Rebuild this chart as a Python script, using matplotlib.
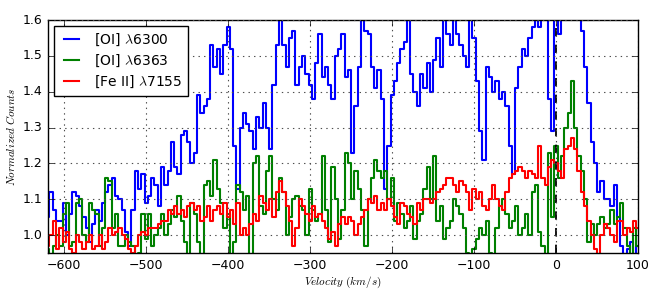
import numpy as np
import matplotlib
matplotlib.use("Agg")
import matplotlib.pyplot as plt

plt.style.use("classic")

# velocity grid (km/s), 4 km/s bins from -620 to 100
velocity = np.arange(-620, 101, 4)

oi_6300 = [
    1.05, 1.12, 1.07, 1.04, 1.04, 1.09, 1.00, 1.06, 1.12, 1.11,
    1.08, 1.05, 1.02, 0.98, 1.03, 1.07, 1.04, 1.09, 1.12, 1.14,
    1.16, 1.11, 1.10, 1.07, 1.01, 0.97, 1.07, 1.18, 1.13, 1.17,
    1.09, 1.11, 1.16, 1.14, 1.08, 1.19, 1.14, 1.18, 1.26, 1.19,
    1.17, 1.28, 1.29, 1.26, 1.20, 1.23, 1.39, 1.34, 1.36, 1.38,
    1.53, 1.47, 1.52, 1.45, 1.53, 1.58, 1.52, 1.25, 1.13, 1.30,
    1.34, 1.31, 1.29, 1.24, 1.33, 1.30, 1.37, 1.30, 1.24, 1.42,
    1.53, 1.60, 1.53, 1.47, 1.55, 1.57, 1.42, 1.47, 1.50, 1.45,
    1.42, 1.38, 1.48, 1.56, 1.44, 1.47, 1.42, 1.38, 1.50, 1.52,
    1.56, 1.44, 1.46, 1.23, 1.36, 1.47, 1.60, 1.57, 1.56, 1.47,
    1.41, 1.46, 1.38, 1.13, 1.25, 1.39, 1.43, 1.48, 1.52, 1.54,
    1.60, 1.45, 1.40, 1.36, 1.45, 1.41, 1.48, 1.40, 1.49, 1.55,
    1.47, 1.60, 1.56, 1.53, 1.60, 1.56, 1.53, 1.50, 1.47, 1.60,
    1.55, 1.43, 1.29, 1.21, 1.47, 1.44, 1.40, 1.43, 1.38, 1.40,
    1.36, 1.25, 1.17, 1.41, 1.47, 1.52, 1.50, 1.55, 1.58, 1.60,
    1.58, 1.65, 1.60, 1.38, 1.29, 1.60, 1.56, 1.70, 1.70, 1.70,
    1.70, 1.70, 1.70, 1.57, 1.47, 1.37, 1.26, 1.20, 1.12, 1.15,
    1.10, 1.10, 1.08, 1.14, 1.05, 0.97, 0.93, 0.96, 0.98, 0.93,
    0.97,
]

oi_6363 = [
    0.96, 0.94, 0.97, 1.00, 0.97, 1.06, 1.09, 0.97, 0.98, 1.09,
    1.10, 1.00, 0.98, 1.09, 1.07, 1.06, 0.97, 1.02, 1.16, 1.15,
    1.02, 1.06, 0.97, 0.97, 1.00, 0.98, 0.97, 0.94, 0.95, 1.06,
    0.99, 1.06, 0.97, 1.00, 1.02, 1.06, 1.00, 1.03, 1.07, 1.05,
    1.11, 1.04, 0.98, 0.94, 1.09, 1.06, 0.98, 0.94, 1.14, 1.15,
    1.11, 1.21, 1.13, 1.09, 1.02, 1.06, 0.93, 0.98, 1.14, 1.12,
    1.07, 1.11, 0.94, 1.20, 1.22, 1.08, 1.06, 1.18, 1.22, 1.10,
    1.07, 1.16, 1.12, 1.00, 1.05, 1.10, 1.11, 1.08, 1.07, 1.00,
    1.13, 1.07, 1.04, 1.06, 1.22, 1.07, 0.98, 1.19, 1.10, 0.99,
    1.07, 1.23, 1.20, 1.10, 1.18, 1.13, 1.07, 0.97, 1.10, 1.16,
    1.21, 1.18, 1.16, 1.18, 1.10, 1.16, 1.04, 1.09, 1.06, 1.02,
    1.04, 1.08, 0.99, 1.04, 1.06, 1.13, 1.19, 1.10, 1.22, 1.04,
    1.08, 0.99, 1.02, 1.04, 1.10, 1.08, 1.06, 1.02, 0.95, 0.93,
    0.96, 0.99, 1.02, 1.00, 1.04, 0.95, 0.93, 1.02, 1.08, 1.10,
    1.06, 1.02, 1.04, 1.08, 1.00, 1.02, 1.06, 1.00, 1.12, 1.14,
    1.01, 0.97, 0.93, 1.23, 1.05, 1.25, 1.16, 1.22, 1.30, 1.34,
    1.43, 1.30, 1.22, 1.18, 1.10, 0.98, 1.03, 1.00, 1.03, 1.05,
    1.02, 1.03, 1.07, 1.03, 1.05, 1.09, 1.02, 0.97, 0.94, 1.02,
    0.97,
]

feii_7155 = [
    0.97, 1.00, 1.04, 0.96, 1.02, 0.98, 1.01, 0.96, 0.95, 1.00,
    0.98, 0.96, 0.98, 1.00, 0.96, 0.97, 1.00, 0.96, 0.98, 1.02,
    1.00, 1.01, 1.02, 1.00, 0.99, 0.96, 0.95, 0.97, 1.00, 1.01,
    1.00, 1.02, 1.02, 1.02, 1.03, 1.04, 1.04, 1.07, 1.06, 1.08,
    1.06, 1.07, 1.05, 1.08, 1.09, 1.07, 1.08, 1.04, 1.05, 1.08,
    1.04, 1.07, 1.08, 1.06, 1.09, 1.05, 1.07, 1.03, 1.09, 1.00,
    1.02, 1.00, 1.03, 1.06, 1.04, 1.11, 1.09, 1.07, 1.10, 1.05,
    1.12, 1.15, 1.12, 1.08, 1.04, 0.97, 1.02, 1.10, 1.08, 1.06,
    1.04, 1.08, 1.05, 1.06, 1.04, 1.02, 0.99, 1.01, 0.97, 1.03,
    1.05, 1.03, 1.05, 1.04, 1.00, 1.03, 1.05, 1.07, 1.10, 1.09,
    1.11, 1.07, 1.09, 1.07, 1.10, 1.08, 1.05, 1.03, 1.09, 1.08,
    1.06, 1.05, 1.03, 1.09, 1.07, 1.10, 1.10, 1.09, 1.10, 1.12,
    1.13, 1.14, 1.16, 1.16, 1.14, 1.12, 1.15, 1.14, 1.12, 1.07,
    1.13, 1.10, 1.12, 1.08, 1.07, 1.10, 1.14, 1.10, 1.08, 1.07,
    1.12, 1.16, 1.17, 1.18, 1.19, 1.18, 1.16, 1.18, 1.17, 1.16,
    1.25, 1.16, 1.14, 1.19, 1.21, 1.20, 1.18, 1.16, 1.24, 1.25,
    1.27, 1.24, 1.18, 1.12, 1.08, 1.04, 1.00, 0.96, 0.93, 1.00,
    1.03, 1.02, 1.00, 0.98, 1.04, 1.04, 1.00, 1.02, 1.01, 1.04,
    1.02,
]

labels = [r"[OI] $\lambda$6300", r"[OI] $\lambda$6363", r"[Fe II] $\lambda$7155"]
colors = ["b", "g", "r"]
x_ticks = [-600, -500, -400, -300, -200, -100, 0, 100]
y_ticks = [1.0, 1.1, 1.2, 1.3, 1.4, 1.5, 1.6]

fig = plt.figure(figsize=(6.64, 2.96), dpi=100, facecolor="white")
ax = fig.add_axes([0.072, 0.145, 0.889, 0.787])

for ys, c, lab in zip([oi_6300, oi_6363, feii_7155], colors, labels):
    ax.plot(velocity, ys, drawstyle="steps-mid", color=c, lw=1.5, label=lab)

ax.axvline(0, color="k", ls="--", lw=1.3)

ax.set_xlim(-620, 100)
ax.set_ylim(0.95, 1.6)
ax.set_xticks(x_ticks)
ax.set_yticks(y_ticks)
ax.tick_params(labelsize=9)
ax.grid(True, color="0.3", ls=":", lw=0.8)
ax.set_xlabel(r"$Velocity\ (km/s)$", fontsize=8, labelpad=2)
ax.set_ylabel(r"$Normalized\ Counts$", fontsize=8, labelpad=4)

leg = ax.legend(loc="upper left", fontsize=10, handlelength=1.7,
                borderaxespad=0.45, labelspacing=0.35, fancybox=False)
leg.get_frame().set_edgecolor("k")

fig.savefig("out.png", dpi=100, facecolor="white")
